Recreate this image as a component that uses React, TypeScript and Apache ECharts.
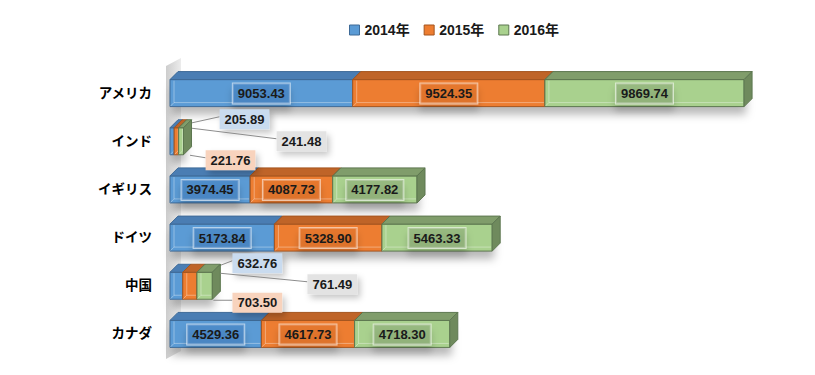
import React, { useEffect, useRef } from "react";
import * as echarts from "echarts";

const categories = ["アメリカ", "インド", "イギリス", "ドイツ", "中国", "カナダ"];
const years = ["2014年", "2015年", "2016年"];
const values2014 = [9053.43, 205.89, 3974.45, 5173.84, 632.76, 4529.36];
const values2015 = [9524.35, 221.76, 4087.73, 5328.9, 703.5, 4617.73];
const values2016 = [9869.74, 241.48, 4177.82, 5463.33, 761.49, 4718.3];
const seriesValues = [values2014, values2015, values2016];
const xMax = 30000;

const palette = [
  { front: "#5b9bd5", top: "#4a7db3", side: "#3f6d9e", edge: "#3e6a97", labelBg: "rgba(70,130,195,0.55)", calloutBg: "#c9dbef" },
  { front: "#ed7d31", top: "#bf6428", side: "#a95822", edge: "#a4551f", labelBg: "rgba(225,115,45,0.5)", calloutBg: "#f8d3bd" },
  { front: "#a9d18e", top: "#809d6b", side: "#6f8a5d", edge: "#5d7750", labelBg: "rgba(135,165,115,0.5)", calloutBg: "#e3e3e3" },
];

// callout placement (relative to the right end of the stacked bar's front face)
const calloutLayout: Record<string, { dx: number; dy: number; sx: number; sy: number }[]> = {
  "インド": [
    { dx: 61, dy: -22, sx: 6.5, sy: -18 },
    { dx: 47, dy: 19, sx: 6.5, sy: 14 },
    { dx: 118, dy: 0, sx: 8.5, sy: -13 },
  ],
  "中国": [
    { dx: 45, dy: -22.5, sx: 3, sy: -18.5 },
    { dx: 45, dy: 17, sx: 1, sy: 14.5 },
    { dx: 120, dy: -1.5, sx: 8, sy: -12.5 },
  ],
};

const FONT = "'Liberation Sans', 'Noto Sans CJK JP', Arial, sans-serif";
const DEPTH = 8;
const FRONT_H = 27;

function makeSeries(s: number) {
  const data = categories.map((_, i) => {
    let start = 0;
    for (let k = 0; k < s; k++) start += seriesValues[k][i];
    const total = seriesValues[0][i] + seriesValues[1][i] + seriesValues[2][i];
    return [start, start + seriesValues[s][i], i, total];
  });
  const c = palette[s];
  return {
    type: "custom",
    name: years[s],
    itemStyle: { color: c.front, borderColor: c.edge },
    encode: { x: [0, 1, 3], y: 2 },
    clip: false,
    z: 2 + s,
    data,
    renderItem: (params: any, api: any) => {
      const start = api.value(0);
      const end = api.value(1);
      const ci = api.value(2);
      const total = api.value(3);
      const p0 = api.coord([start, ci]);
      const p1 = api.coord([end, ci]);
      const pt = api.coord([total, ci]);
      const d = DEPTH;
      const h = FRONT_H;
      const x0 = p0[0];
      const x1 = p1[0];
      const cy = p0[1];
      const yt = cy - h / 2;
      const yb = cy + h / 2;
      const children: any[] = [];
      if (s === 0) {
        children.push({
          type: "rect",
          shape: { x: x0, y: yt, width: pt[0] - x0, height: h },
          style: { fill: "#ffffff", shadowBlur: 9, shadowOffsetY: 8, shadowOffsetX: 2, shadowColor: "rgba(0,0,0,0.28)" },
        });
      }
      children.push({
        type: "rect",
        shape: { x: x0, y: yt, width: x1 - x0, height: h },
        style: { fill: c.front, stroke: c.edge, lineWidth: 1 },
      });
      children.push({
        type: "polyline",
        shape: { points: [[x0 + 4, yt + 1], [x0 + 4, yb - 4], [x1 - 1, yb - 4]] },
        style: { stroke: "rgba(255,255,255,0.35)", lineWidth: 1, fill: null },
      });
      children.push({
        type: "line",
        shape: { x1: x0 + 0.5, y1: yb - 0.5, x2: x0 + 4, y2: yb - 4 },
        style: { stroke: "rgba(255,255,255,0.35)", lineWidth: 1 },
      });
      children.push({
        type: "polygon",
        shape: { points: [[x0, yt], [x0 + d, yt - d], [x1 + d, yt - d], [x1, yt]] },
        style: { fill: c.top, stroke: c.edge, lineWidth: 1 },
      });
      children.push({
        type: "polygon",
        shape: { points: [[x1, yt], [x1 + d, yt - d], [x1 + d, yb - d], [x1, yb]] },
        style: { fill: c.side, stroke: c.edge, lineWidth: 1 },
      });
      const text = seriesValues[s][ci].toFixed(2);
      const layout = calloutLayout[categories[ci]];
      if (layout) {
        const L = layout[s];
        const bx = pt[0] + L.dx;
        const by = cy + L.dy;
        children.push({
          type: "line",
          z2: 5,
          shape: { x1: pt[0] + L.sx, y1: cy + L.sy, x2: bx - 25, y2: by - 2.5 },
          style: { stroke: "#8c8c8c", lineWidth: 1 },
        });
        children.push({
          type: "text",
          z2: 10,
          style: {
            text,
            x: bx,
            y: by,
            align: "center",
            verticalAlign: "middle",
            font: "bold 13px " + FONT,
            fill: "#1a1a1a",
            backgroundColor: c.calloutBg,
            padding: [4, 5, 3, 5],
            shadowBlur: 6,
            shadowOffsetX: 3,
            shadowOffsetY: 4,
            shadowColor: "rgba(0,0,0,0.22)",
          },
        });
      } else {
        children.push({
          type: "text",
          z2: 10,
          style: {
            text,
            x: (x0 + x1) / 2,
            y: cy + 0.5,
            align: "center",
            verticalAlign: "middle",
            font: "bold 13px " + FONT,
            fill: "#1a1a1a",
            backgroundColor: c.labelBg,
            borderColor: "rgba(255,255,255,0.55)",
            borderWidth: 1,
            padding: [4, 5, 3, 5],
            shadowBlur: 7,
            shadowOffsetY: 7,
            shadowColor: "rgba(0,0,0,0.3)",
          },
        });
      }
      return { type: "group", children };
    },
  };
}

export default function App() {
  const ref = useRef<HTMLDivElement>(null);
  useEffect(() => {
    if (!ref.current) return;
    const chart = echarts.init(ref.current, null, { renderer: "svg" });
    chart.setOption({
      animation: false,
      backgroundColor: "#ffffff",
      legend: {
        left: 344,
        top: 17,
        itemWidth: 10,
        itemHeight: 10,
        itemGap: 14,
        icon: "rect",
        textStyle: { fontFamily: FONT, fontWeight: "bold", fontSize: 14, color: "#1a1a1a", lineHeight: 16 },
        data: years.map((y, i) => ({
          name: y,
          itemStyle: { color: palette[i].front, borderColor: palette[i].edge, borderWidth: 1 },
        })),
      },
      grid: { left: 170, right: 39.6, top: 69, bottom: 17 },
      xAxis: { type: "value", min: 0, max: xMax, show: false },
      yAxis: {
        type: "category",
        inverse: true,
        data: categories,
        axisLine: { show: false },
        axisTick: { show: false },
        splitLine: { show: false },
        axisLabel: { margin: 18, fontFamily: FONT, fontWeight: "bold", fontSize: 13.5, color: "#000000" },
      },
      graphic: [
        {
          type: "polygon",
          z: -10,
          silent: true,
          shape: { points: [[166, 66], [181, 58], [181, 351], [166, 359]] },
          style: {
            fill: new echarts.graphic.LinearGradient(0, 0, 1, 0, [
              { offset: 0, color: "#cdcdcd" },
              { offset: 1, color: "#ececec" },
            ]),
          },
        },
      ],
      series: [0, 1, 2].map(makeSeries),
    });
    return () => chart.dispose();
  }, []);
  return <div ref={ref} style={{ position: "fixed", left: 0, top: 0, width: 815, height: 375 }} />;
}
